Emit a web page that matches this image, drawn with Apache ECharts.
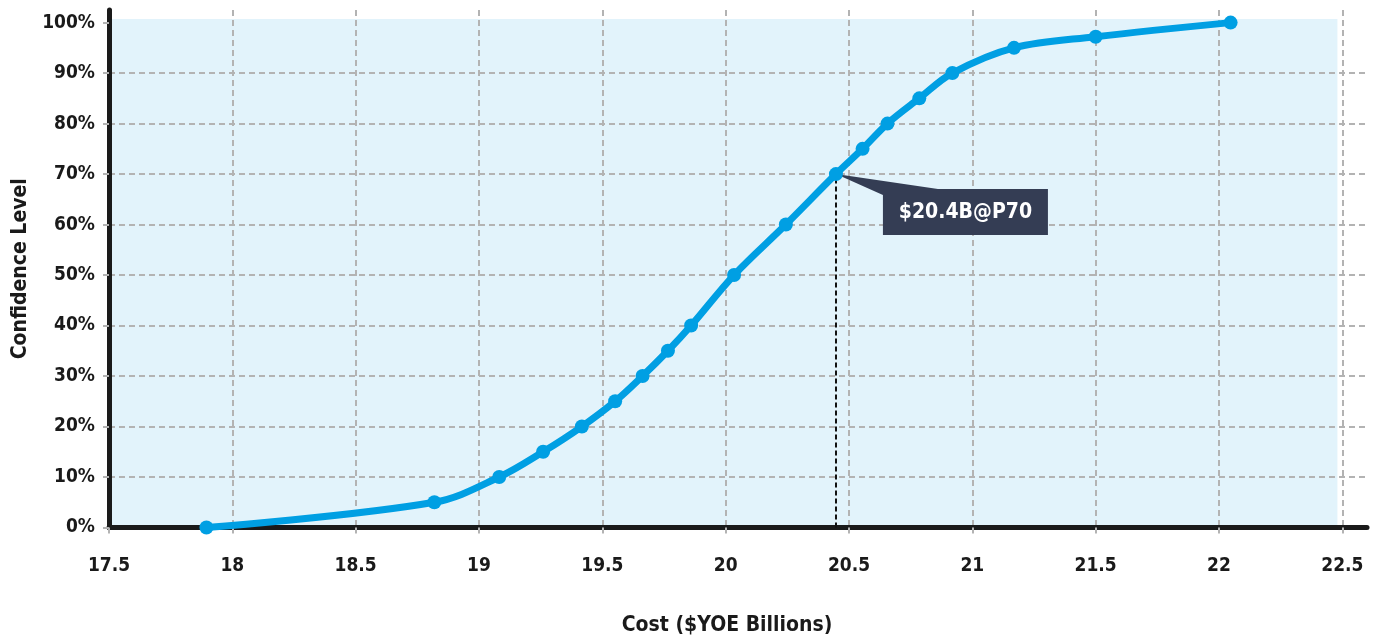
<!DOCTYPE html>
<html>
<head>
<meta charset="utf-8">
<script src="https://cdn.jsdelivr.net/npm/echarts@6/dist/echarts.min.js"></script>
<style>
html,body{margin:0;padding:0;background:#fff;overflow:hidden;}
#chart{width:1382px;height:638px;}
</style>
</head>
<body>
<div id="chart"></div>
<script>
// ---- data ----
const costs = [17.895, 18.819, 19.082, 19.26, 19.417, 19.552, 19.663, 19.766, 19.86, 20.034, 20.244, 20.447, 20.555, 20.656, 20.785, 20.919, 21.169, 21.5, 22.047];
const confidence = [0, 5, 10, 15, 20, 25, 30, 35, 40, 50, 60, 70, 75, 80, 85, 90, 95, 97.2, 100];
const p70Cost = 20.447;
const p70Level = 70;
const p70Label = '$20.4B@P70';
const xTitle = 'Cost ($YOE Billions)';
const yTitle = 'Confidence Level';
const yGridLevels = [10, 20, 30, 40, 50, 60, 70, 80, 90];
const shadeX = [17.5, 22.48];
const shadeY = [0, 100.7];

const FONT = "'DejaVu Sans Condensed','DejaVu Sans',sans-serif";
const gridLine = {color: '#b3b3b3', width: 2, type: [6, 4]};

const chart = echarts.init(document.getElementById('chart'), null, {renderer: 'canvas', width: 1382, height: 638});
chart.setOption({
  animation: false,
  grid: {left: 109, right: 15, top: 10, bottom: 110.5, containLabel: false, outerBoundsMode: 'none'},
  xAxis: {
    type: 'value', min: 17.5, max: 22.6, interval: 0.5,
    name: xTitle, nameLocation: 'middle', nameGap: 88,
    nameTextStyle: {fontFamily: FONT, fontWeight: 'bold', fontSize: 21, color: '#1a1a1a', padding: [0, 22, 0, 0]},
    axisLine: {show: true, onZero: false, lineStyle: {color: '#1a1a1a', width: 5}},
    axisTick: {show: true, length: 10, lineStyle: gridLine},
    axisLabel: {showMaxLabel: false, margin: 29, fontFamily: FONT, fontWeight: 'bold', fontSize: 19, color: '#1a1a1a',
      formatter: v => String(+v.toFixed(1))},
    splitLine: {show: true, showMinLine: false, showMaxLine: false, lineStyle: gridLine}
  },
  yAxis: {
    type: 'value', min: 0, max: 102.5, interval: 10,
    name: yTitle, nameLocation: 'middle', nameGap: 76, nameRotate: 90,
    nameTextStyle: {fontFamily: FONT, fontWeight: 'bold', fontSize: 21, color: '#1a1a1a'},
    axisLine: {show: true, lineStyle: {color: '#1a1a1a', width: 5}},
    axisTick: {show: true, length: 10, lineStyle: gridLine},
    axisLabel: {showMaxLabel: false, margin: 14, fontFamily: FONT, fontWeight: 'bold', fontSize: 19, color: '#1a1a1a',
      formatter: v => v + '%'},
    splitLine: {show: false}
  },
  series: [
    {
      type: 'line', data: [], z: -1, silent: true,
      markArea: {
        silent: true, z: -1,
        itemStyle: {color: '#e2f3fb'},
        data: [[{coord: [shadeX[0], shadeY[0]]}, {coord: [shadeX[1], shadeY[1]]}]]
      },
      markLine: {
        silent: true, symbol: 'none', z: 0,
        lineStyle: gridLine,
        label: {show: false},
        data: yGridLevels.map(v => ({yAxis: v}))
      }
    },
    {
      type: 'line',
      data: costs.map((c, i) => [c, confidence[i]]),
      smooth: 0.35,
      symbol: 'circle', symbolSize: 14,
      lineStyle: {color: '#009fe3', width: 7},
      itemStyle: {color: '#009fe3'},
      z: 3,
      markLine: {
        silent: true, symbol: 'none', z: 2,
        lineStyle: {color: '#111', width: 2, type: [5, 3]},
        label: {show: false},
        data: [[{coord: [p70Cost, 0]}, {coord: [p70Cost, p70Level]}]]
      },
      markPoint: {
        silent: true, z: 1,
        symbol: 'path://M0 0 L102 15 L212 15 L212 61 L47 61 L47 21 Z',
        symbolSize: [212, 61],
        symbolKeepAspect: false,
        symbolOffset: [106, 30.5],
        itemStyle: {color: '#343d54'},
        label: {show: true, position: 'inside', offset: [23.5, 7.5], formatter: p70Label,
          fontFamily: FONT, fontWeight: 'bold', fontSize: 21, color: '#ffffff'},
        data: [{coord: [p70Cost, p70Level]}]
      }
    }
  ]
});
</script>
</body>
</html>
